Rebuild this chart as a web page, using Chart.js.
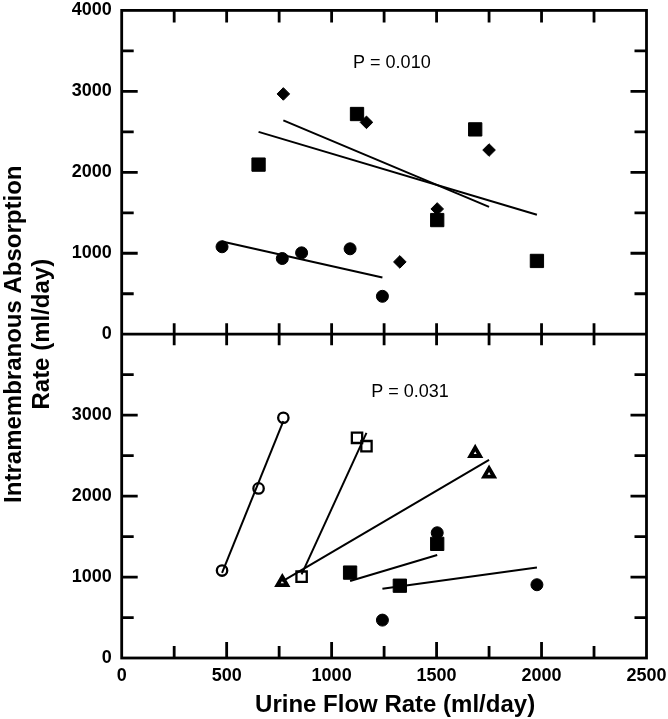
<!DOCTYPE html>
<html>
<head>
<meta charset="utf-8">
<script src="https://cdn.jsdelivr.net/npm/chart.js@4.4.1/dist/chart.umd.min.js"></script>
<style>
  html, body { margin: 0; padding: 0; background: #fff; }
  #wrap { width: 668px; height: 719px; }
</style>
</head>
<body>
<div id="wrap"><canvas id="chart"></canvas></div>
<script>
// one entry per subject (same order in every array), ml/day
const flowA = [478, 857, 765, 1088, 1242];
const absA  = [1080, 1005, 935, 1055, 468];
const flowB = [652, 1121, 1684, 1503, 1978];
const absB  = [2095, 2720, 2530, 1410, 905];
const flowC = [770, 1166, 1750, 1325, 1503];
const absC  = [2968, 2617, 2275, 893, 1547];

const xTickLabels = ['0', '500', '1000', '1500', '2000', '2500'];
const yTickLabels = ['0', '1000', '2000', '3000', '4000'];
const pValues = ['P = 0.010', 'P = 0.031'];
const xTitle = 'Urine Flow Rate (ml/day)';

const PANEL = 4000; // top panel sits above the bottom one on a single y scale
const FONT = '"Liberation Sans", Arial, sans-serif';

// least squares line drawn between the smallest and largest x of the group
function fitLine(xs, ys, shift) {
  const n = xs.length;
  const mx = xs.reduce((a, b) => a + b, 0) / n;
  const my = ys.reduce((a, b) => a + b, 0) / n;
  let sxy = 0, sxx = 0;
  xs.forEach((x, i) => { sxy += (x - mx) * (ys[i] - my); sxx += (x - mx) * (x - mx); });
  const b = sxy / sxx, a = my - b * mx;
  const lo = Math.min(...xs), hi = Math.max(...xs);
  return [{ x: lo, y: a + b * lo + shift }, { x: hi, y: a + b * hi + shift }];
}

const pts = (xs, ys, shift) => xs.map((x, i) => ({ x, y: ys[i] + shift }));

const lineSet = (data) => ({
  data, showLine: true, borderColor: '#000', borderWidth: 2, pointRadius: 0, order: 0
});

const datasets = [];

// top panel: grouped by condition
const conds = [
  [flowA, absA, { pointStyle: 'circle', pointRadius: 6, pointBorderWidth: 1, pointBackgroundColor: '#000' }],
  [flowB, absB, { pointStyle: 'rect', pointRadius: 9.4, pointBorderWidth: 1, pointBackgroundColor: '#000' }],
  [flowC, absC, { pointStyle: 'rectRot', pointRadius: 6.3, pointBorderWidth: 1, pointBackgroundColor: '#000' }]
];
conds.forEach(([xs, ys, style]) => {
  datasets.push(Object.assign({ data: pts(xs, ys, PANEL), pointBorderColor: '#000', order: 1 }, style));
  datasets.push(lineSet(fitLine(xs, ys, PANEL)));
});

// bottom panel: grouped by subject
const subjStyles = [
  { pointStyle: 'circle', pointRadius: 5.2, pointBorderWidth: 2.3, pointBackgroundColor: 'rgba(0,0,0,0)' },
  { pointStyle: 'rect', pointRadius: 7.3, pointBorderWidth: 2.3, pointBackgroundColor: 'rgba(0,0,0,0)' },
  { pointStyle: 'triangle', pointRadius: 5.6, pointBorderWidth: 3.8, pointBackgroundColor: '#fff' },
  { pointStyle: 'rect', pointRadius: 9.4, pointBorderWidth: 1, pointBackgroundColor: '#000' },
  { pointStyle: 'circle', pointRadius: 6, pointBorderWidth: 1, pointBackgroundColor: '#000' }
];
subjStyles.forEach((style, i) => {
  const xs = [flowA[i], flowB[i], flowC[i]];
  const ys = [absA[i], absB[i], absC[i]];
  datasets.push(Object.assign({ data: pts(xs, ys, 0), pointBorderColor: '#000', order: 1 }, style));
  datasets.push(lineSet(fitLine(xs, ys, 0)));
});

const framePlugin = {
  id: 'frame',
  afterDraw(chart) {
    const { ctx, chartArea: { left, right, top, bottom }, scales: { x, y } } = chart;
    const mid = y.getPixelForValue(PANEL);
    ctx.save();
    ctx.strokeStyle = '#000';
    ctx.lineWidth = 2.8;
    ctx.strokeRect(left, top, right - left, bottom - top);
    ctx.beginPath();
    ctx.moveTo(left, mid); ctx.lineTo(right, mid);
    for (let v = 250; v < 2500; v += 250) {
      const px = x.getPixelForValue(v);
      ctx.moveTo(px, bottom); ctx.lineTo(px, bottom - (v % 500 === 0 ? 16 : 12));
      ctx.moveTo(px, top); ctx.lineTo(px, top + 12);
      ctx.moveTo(px, mid - 11); ctx.lineTo(px, mid + 11);
    }
    for (let v = 500; v < 2 * PANEL; v += 500) {
      if (v === PANEL) continue;
      const py = y.getPixelForValue(v);
      const len = v % 1000 === 0 ? 16 : 12;
      ctx.moveTo(left, py); ctx.lineTo(left + len, py);
      ctx.moveTo(right, py); ctx.lineTo(right - len, py);
    }
    ctx.stroke();
    ctx.fillStyle = '#000';
    ctx.textAlign = 'center';
    ctx.textBaseline = 'middle';
    ctx.font = '18px ' + FONT;
    ctx.fillText(pValues[0], x.getPixelForValue(1287), y.getPixelForValue(PANEL + 3350));
    ctx.fillText(pValues[1], x.getPixelForValue(1373), y.getPixelForValue(3280));
    // x axis title, sits a little right of the plot centre in the original
    ctx.font = 'bold 24px ' + FONT;
    ctx.fillText(xTitle, (left + right) / 2 + 11, bottom + 47);
    ctx.restore();
  }
};

new Chart(document.getElementById('chart'), {
  type: 'scatter',
  data: { datasets },
  options: {
    responsive: true,
    maintainAspectRatio: false,
    animation: false,
    layout: { padding: { left: 0, right: 21.5, top: 6, bottom: 0 } },
    plugins: { legend: { display: false }, tooltip: { enabled: false } },
    scales: {
      x: {
        min: 0, max: 2500,
        grid: { display: false, drawTicks: false },
        border: { display: false },
        ticks: {
          stepSize: 500, padding: 7, color: '#000', maxRotation: 0,
          font: { family: FONT, size: 18, weight: 'bold' },
          callback: (v) => xTickLabels[v / 500]
        },
        afterFit: (s) => { s.height = 61; s.paddingLeft = 0; s.paddingRight = 0; }
      },
      y: {
        min: 0, max: 2 * PANEL,
        grid: { display: false, drawTicks: false },
        border: { display: false },
        ticks: {
          stepSize: 1000, padding: 10, color: '#000',
          font: { family: FONT, size: 18, weight: 'bold' },
          callback: (v) => v === PANEL ? yTickLabels[0]
            : yTickLabels[(v > PANEL ? v - PANEL : v) / 1000]
        },
        title: {
          display: true, text: ['Intramembranous Absorption', 'Rate (ml/day)'], color: '#000',
          padding: 0, font: { family: FONT, size: 24, weight: 'bold', lineHeight: 1.17 }
        },
        afterFit: (s) => { s.width = 121.7; s.paddingTop = 0; s.paddingBottom = 0; }
      }
    }
  },
  plugins: [framePlugin]
});
</script>
</body>
</html>
